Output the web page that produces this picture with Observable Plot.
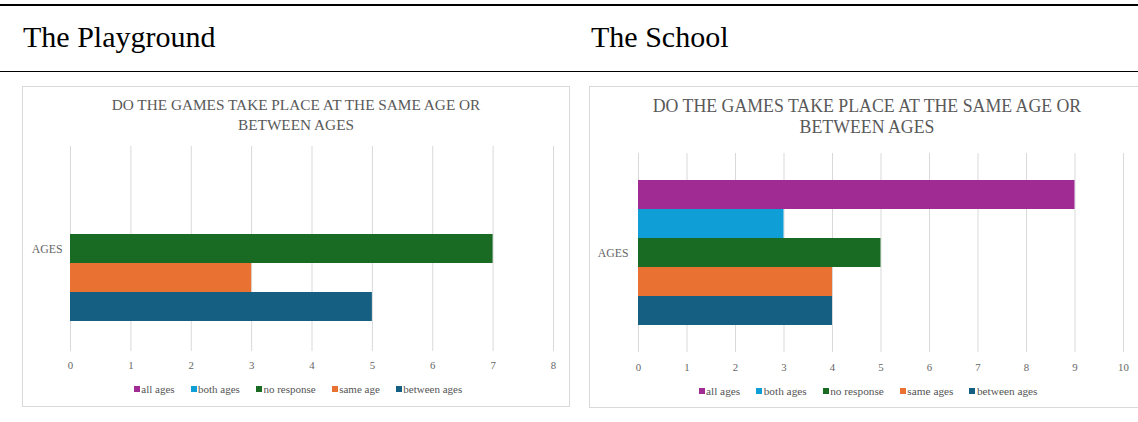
<!DOCTYPE html>
<html><head><meta charset="utf-8">
<script src="https://cdn.jsdelivr.net/npm/d3@7"></script>
<script src="https://cdn.jsdelivr.net/npm/@observablehq/plot@0.6"></script>
<style>
html,body{margin:0;padding:0;background:#fff;}
body{width:1138px;height:422px;position:relative;overflow:hidden;font-family:"Liberation Serif","Times New Roman",serif;}
.rule{position:absolute;left:0;width:1138px;background:#000;}
.hdr{position:absolute;font-size:30px;line-height:30px;color:#000;white-space:nowrap;}
.box{position:absolute;border:1px solid #d9d9d9;box-sizing:border-box;background:#fff;}
.ttl{position:absolute;text-align:center;color:#595959;white-space:nowrap;}
.chart{position:absolute;}
.chart svg{display:block;overflow:visible;max-width:none !important;}
.leg{position:absolute;display:flex;justify-content:center;align-items:center;}
.leg .lg-swatches{font-family:"Liberation Serif","Times New Roman",serif;font-size:11px;color:#555;margin:0 !important;padding:0;min-height:0;display:flex;flex-wrap:nowrap;column-gap:16px;}
.leg .lg-swatch{margin:0 !important;}
#l2 .lg-swatches{font-size:11.3px;column-gap:16px;}
.leg .lg-swatch > svg{margin-right:1.5px;}
</style></head><body>
<div class="rule" style="top:4px;height:2px"></div>
<div class="hdr" id="h1" style="left:23px;top:22px"></div>
<div class="hdr" id="h2" style="left:591px;top:22px"></div>
<div class="rule" style="top:71px;height:1px"></div>

<div class="box" style="left:22px;top:86px;width:548px;height:321px"></div>
<div class="box" style="left:589px;top:86px;width:556px;height:322px"></div>

<div class="ttl" id="t1" style="left:22px;width:548px;top:95px;font-size:15.3px;line-height:20px"></div>
<div class="ttl" id="t2" style="left:589px;width:556px;top:96px;font-size:17.8px;line-height:21px"></div>

<div class="chart" id="c1" style="left:22px;top:140px;width:548px"></div>
<div class="chart" id="c2" style="left:589px;top:140px;width:556px"></div>

<div class="leg" id="l1" style="left:22px;width:552px;top:381px;height:16px"></div>
<div class="leg" id="l2" style="left:589px;width:558px;top:383px;height:16px"></div>

<script>
// ---- data ----
const panelTitles = ["The Playground", "The School"];
const chartTitleLines = ["DO THE GAMES TAKE PLACE AT THE SAME AGE OR", "BETWEEN AGES"];
const categories = ["AGES"];
const leftSeries = ["all ages", "both ages", "no response", "same age", "between ages"];
const leftValues = [0, 0, 7, 3, 5];
const rightSeries = ["all ages", "both ages", "no response", "same ages", "between ages"];
const rightValues = [9, 3, 5, 4, 4];
const seriesColors = ["#A02B93", "#0F9ED5", "#196B24", "#E97132", "#156082"];
const leftTicks = [0, 1, 2, 3, 4, 5, 6, 7, 8];
const rightTicks = [0, 1, 2, 3, 4, 5, 6, 7, 8, 9, 10];

document.getElementById("h1").textContent = panelTitles[0];
document.getElementById("h2").textContent = panelTitles[1];
for (const id of ["t1", "t2"]) {
  const el = document.getElementById(id);
  chartTitleLines.forEach((line, i) => {
    if (i) el.appendChild(document.createElement("br"));
    el.appendChild(document.createTextNode(line));
  });
}

function makeChart(o) {
  const rows = o.series.map((s, i) => ({category: categories[0], series: s, value: o.values[i]}));
  return Plot.plot({
    width: o.width, height: o.height,
    marginLeft: o.ml, marginRight: o.mr, marginTop: o.mt, marginBottom: o.mb,
    style: {fontFamily: '"Liberation Serif", "Times New Roman", serif', fontSize: "10.8px", color: "#666", background: "transparent", overflow: "visible"},
    facet: {data: rows, y: "category"},
    fy: {axis: null, padding: 0},
    x: {domain: [o.ticks[0], o.ticks[o.ticks.length - 1]], ticks: o.ticks, tickSize: 0, tickPadding: o.tickPad, tickFormat: d => String(d), label: null},
    y: {domain: o.series, axis: null, paddingInner: 0, paddingOuter: o.pad},
    color: {domain: o.series, range: seriesColors},
    marks: [
      Plot.ruleX(o.ticks, {stroke: "#d9d9d9", strokeWidth: 1}),
      Plot.barX(rows, {x: "value", y: "series", fill: "series"}),
      Plot.text(categories, {frameAnchor: "left", text: d => d, dx: -o.labelPad, textAnchor: "end", fontSize: 11.8, fill: "#666"})
    ]
  });
}

document.getElementById("c1").appendChild(makeChart({
  series: leftSeries, values: leftValues, ticks: leftTicks,
  width: 548, height: 240, ml: 48, mr: 17, mt: 6, mb: 29, pad: 1, tickPad: 10, labelPad: 8
}));
document.getElementById("c2").appendChild(makeChart({
  series: rightSeries, values: rightValues, ticks: rightTicks,
  width: 556, height: 240, ml: 49, mr: 22, mt: 13, mb: 28, pad: 0.9, tickPad: 11, labelPad: 10
}));

document.getElementById("l1").appendChild(Plot.legend({color: {type: "ordinal", domain: leftSeries, range: seriesColors}, legend: "swatches", swatchSize: 6, className: "lg"}));
document.getElementById("l2").appendChild(Plot.legend({color: {type: "ordinal", domain: rightSeries, range: seriesColors}, legend: "swatches", swatchSize: 6, className: "lg"}));
</script>
</body></html>
